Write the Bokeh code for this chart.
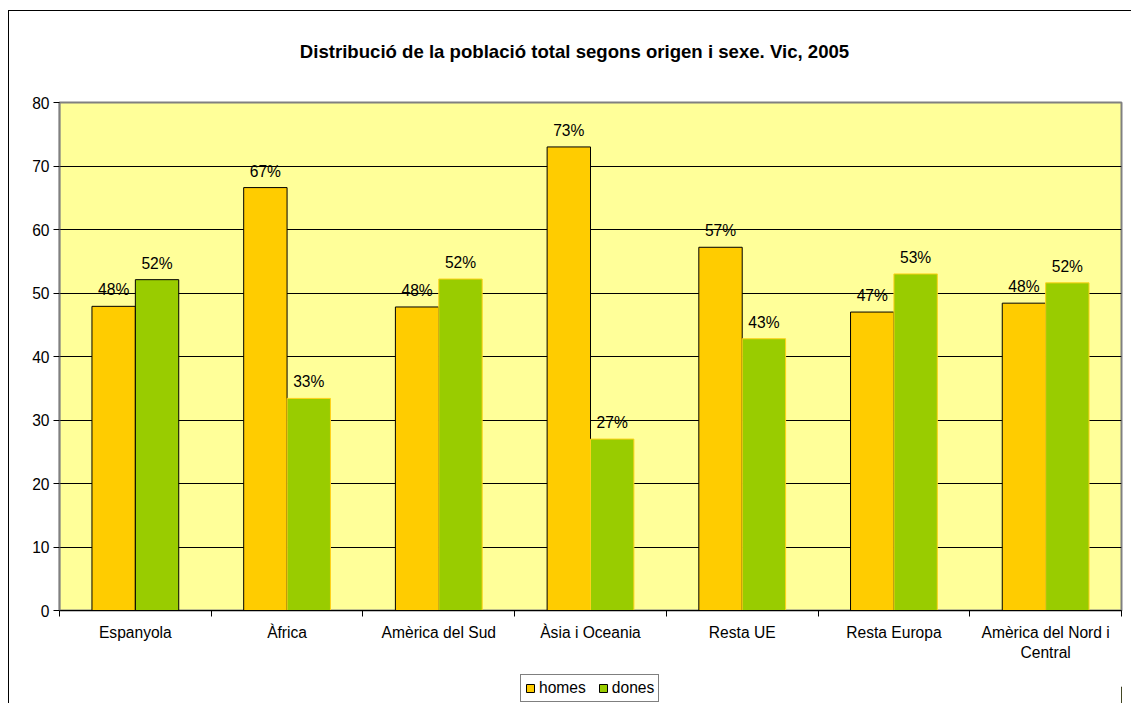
from bokeh.plotting import figure
from bokeh.layouts import column
from bokeh.models import FixedTicker, Legend, LegendItem, ColumnDataSource, Div
from bokeh.core.properties import value
from bokeh.embed import file_html
from bokeh.resources import INLINE

# ---- data ----
categories = ["Espanyola", "Àfrica", "Amèrica del Sud", "Àsia i Oceania",
              "Resta UE", "Resta Europa", "Amèrica del Nord i\nCentral"]
homes = [47.9, 66.6, 47.8, 73.0, 57.2, 47.0, 48.4]
dones = [52.1, 33.4, 52.2, 27.0, 42.8, 53.0, 51.6]
y_ticks = [0, 10, 20, 30, 40, 50, 60, 70, 80]
series_names = ["homes", "dones"]
title_text = "Distribució de la població total segons origen i sexe. Vic, 2005"

FONT = "Liberation Sans"
FS = "15.6px"
HOMES_COLOR = "#FFCC00"
DONES_COLOR = "#99CC00"
BAR_W = 0.286

n = len(categories)
centers = [i + 0.5 for i in range(n)]
homes_x = [c - BAR_W / 2 for c in centers]
dones_x = [c + BAR_W / 2 for c in centers]
dones_line = ["black"] + ["#FFD21A"] * (n - 1)

src_h = ColumnDataSource(dict(x=homes_x, top=homes,
                              lab=[f"{round(v)}%" for v in homes]))
src_d = ColumnDataSource(dict(x=dones_x, top=dones, lc=dones_line,
                              lab=[f"{round(v)}%" for v in dones]))

# ---- title ----
title = Div(text=title_text, width=1120, height=69,
            styles={"text-align": "center", "font-family": FONT,
                    "font-size": "18.6px", "font-weight": "bold",
                    "line-height": "21px", "padding-top": "25px",
                    "padding-left": "1px", "color": "black",
                    "box-sizing": "border-box"})

# ---- chart ----
p = figure(width=1120, height=580, x_range=(0, n), y_range=(0, 80),
           output_backend="svg", toolbar_location=None,
           min_border_left=50, min_border_right=8,
           min_border_top=12, min_border_bottom=60)

p.background_fill_color = "#FFFF99"
p.border_fill_color = "white"
p.outline_line_color = "#808080"
p.outline_line_width = 2

p.xgrid.visible = False
p.ygrid.ticker = FixedTicker(ticks=y_ticks)
p.ygrid.grid_line_color = "black"
p.ygrid.grid_line_width = 1

p.vbar(x="x", top="top", width=BAR_W, bottom=0, source=src_h,
       fill_color=HOMES_COLOR, line_color="black", line_width=1)
p.vbar(x="x", top="top", width=BAR_W, bottom=0, source=src_d,
       fill_color=DONES_COLOR, line_color="lc", line_width=1)

for src in (src_h, src_d):
    p.text(x="x", y="top", text="lab", source=src, text_align="center",
           text_baseline="bottom", y_offset=-8, text_font=value(FONT),
           text_font_size=FS, text_color="black")

yax = p.yaxis[0]
yax.ticker = FixedTicker(ticks=y_ticks)
yax.axis_line_color = "#808080"
yax.axis_line_width = 1.5
yax.major_tick_line_color = "black"
yax.major_tick_out = 6
yax.major_tick_in = 0
yax.minor_tick_line_color = None
yax.major_label_text_font = FONT
yax.major_label_text_font_size = FS
yax.major_label_text_color = "black"
yax.major_label_standoff = 4

xax = p.xaxis[0]
xax.ticker = FixedTicker(ticks=centers, minor_ticks=list(range(n + 1)))
xax.major_label_overrides = {c: lab for c, lab in zip(centers, categories)}
xax.axis_line_color = "black"
xax.major_tick_line_color = None
xax.minor_tick_line_color = "black"
xax.minor_tick_out = 6
xax.minor_tick_in = 0
xax.major_label_text_font = FONT
xax.major_label_text_font_size = FS
xax.major_label_text_color = "black"
xax.major_label_standoff = 7

# ---- legend strip ----
q = figure(width=1120, height=33, x_range=(0, 1), y_range=(0, 1),
           output_backend="svg", toolbar_location=None,
           x_axis_type=None, y_axis_type=None,
           min_border_left=0, min_border_right=0,
           min_border_top=0, min_border_bottom=0)
q.outline_line_color = None
q.background_fill_color = "white"
q.border_fill_color = "white"
q.xgrid.visible = False
q.ygrid.visible = False
lh = q.vbar(x=[5], top=[0.5], width=0.1, fill_color=HOMES_COLOR, line_color="black")
ld = q.vbar(x=[5], top=[0.5], width=0.1, fill_color=DONES_COLOR, line_color="black")
legend = Legend(items=[LegendItem(label=series_names[0], renderers=[lh]),
                       LegendItem(label=series_names[1], renderers=[ld])],
                orientation="horizontal", location=(461, 1),
                label_text_font=FONT, label_text_font_size=FS,
                label_text_color="black", glyph_width=10, glyph_height=10,
                label_standoff=4, spacing=12, padding=4, margin=0,
                border_line_color="black", border_line_width=1,
                background_fill_color="white", label_height=15)
q.add_layout(legend, "center")

layout = column(title, p, q, spacing=0)
layout.styles = {"margin-left": "8px", "margin-top": "10px",
                 "border-left": "1.5px solid black", "border-top": "1.5px solid black"}
open("out.html", "w").write(file_html(layout, INLINE))
